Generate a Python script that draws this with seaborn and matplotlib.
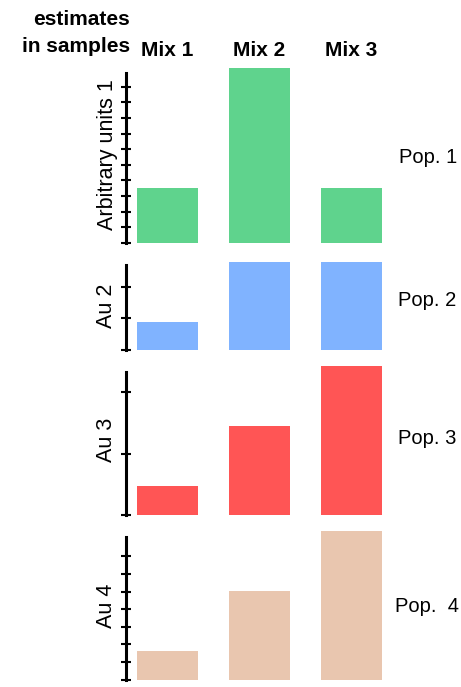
import numpy as np
import pandas as pd
import matplotlib
matplotlib.use("Agg")
import matplotlib.pyplot as plt
import matplotlib.transforms as mtransforms
import seaborn as sns

# ---- data -------------------------------------------------------------
mixes = ["Mix 1", "Mix 2", "Mix 3"]
pop_labels = ["Pop. 1", "Pop. 2", "Pop. 3", "Pop.  4"]
unit_labels = ["Arbitrary units 1", "Au 2", "Au 3", "Au 4"]
pop1 = [3.53, 11.2, 3.53]
pop2 = [0.88, 2.8, 2.8]
pop3 = [0.47, 1.45, 2.42]
pop4 = [1.6, 5.03, 8.44]
tick_max = [10, 2, 2, 7]          # highest tick on each axis
axis_top = [10.9, 2.7, 2.33, 8.1]  # where each drawn axis line ends
colors = ["#5fd38d", "#80b3ff", "#ff5555", "#e9c6af"]
header = ["estimates", "in samples"]

# ---- layout (pixels) --------------------------------------------------
W, H, DPI = 461, 687, 100
zero_px = [242.7, 349.5, 515.0, 679.5]
scale_px = [15.6, 31.2, 61.5, 17.6]
top_px = [60.0, 256.0, 360.0, 526.0]
label_center_px = [155, 305.5, 440, 606]
pop_baseline_px = [163, 306, 444, 611.5]
pop_x_px = [399, 398, 398, 395]
ax_left_px, ax_width_px = 126, 274

sns.set_theme(style="white")
plt.rcParams["font.family"] = ["Liberation Sans", "DejaVu Sans"]

fig = plt.figure(figsize=(W / DPI, H / DPI), dpi=DPI)

series = [pop1, pop2, pop3, pop4]
axes = []
for k, vals in enumerate(series):
    z, s, t = zero_px[k], scale_px[k], top_px[k]
    ax = fig.add_axes([ax_left_px / W, 1 - z / H, ax_width_px / W, (z - t) / H])
    df = pd.DataFrame({"mix": mixes, "value": vals})
    sns.barplot(data=df, x="mix", y="value", ax=ax, color=colors[k],
                saturation=1, width=0.66, linewidth=0)
    ax.set_xlim(-0.45, 2.53)
    ax.set_ylim(0, (z - t) / s)
    ax.set_xlabel("")
    ax.set_xticks([])
    ax.set_yticks(np.arange(0, tick_max[k] + 1))
    ax.tick_params(axis="y", direction="inout", length=6.5, width=1.5,
                   color="black", left=True, labelleft=False)
    sns.despine(ax=ax, bottom=True)
    ax.spines["left"].set_linewidth(2.2)
    ax.spines["left"].set_color("black")
    ax.spines["left"].set_bounds(0, axis_top[k])
    ax.patch.set_alpha(0)
    ax.set_ylabel(unit_labels[k], fontsize=15.5, color="black")
    ax.yaxis.label.set_verticalalignment("baseline")
    ax.yaxis.set_label_coords((112.5 - ax_left_px) / ax_width_px,
                              (z - label_center_px[k]) / (z - t))
    fig.text(pop_x_px[k] / W, 1 - pop_baseline_px[k] / H, pop_labels[k],
             fontsize=14.5, ha="left", va="baseline", color="black")
    axes.append(ax)

# Mix headers above the first panel
trans = mtransforms.blended_transform_factory(axes[0].transData, fig.transFigure)
for i, m in enumerate(mixes):
    axes[0].text(i, 1 - 56 / H, m, transform=trans, ha="center", va="baseline",
                 fontsize=15, fontweight="bold", color="black", clip_on=False)

fig.text(130 / W, 1 - 25 / H, header[0], ha="right", va="baseline",
         fontsize=15, fontweight="bold", color="black")
fig.text(130 / W, 1 - 52 / H, header[1], ha="right", va="baseline",
         fontsize=15, fontweight="bold", color="black")

fig.savefig("out.png", dpi=DPI)
